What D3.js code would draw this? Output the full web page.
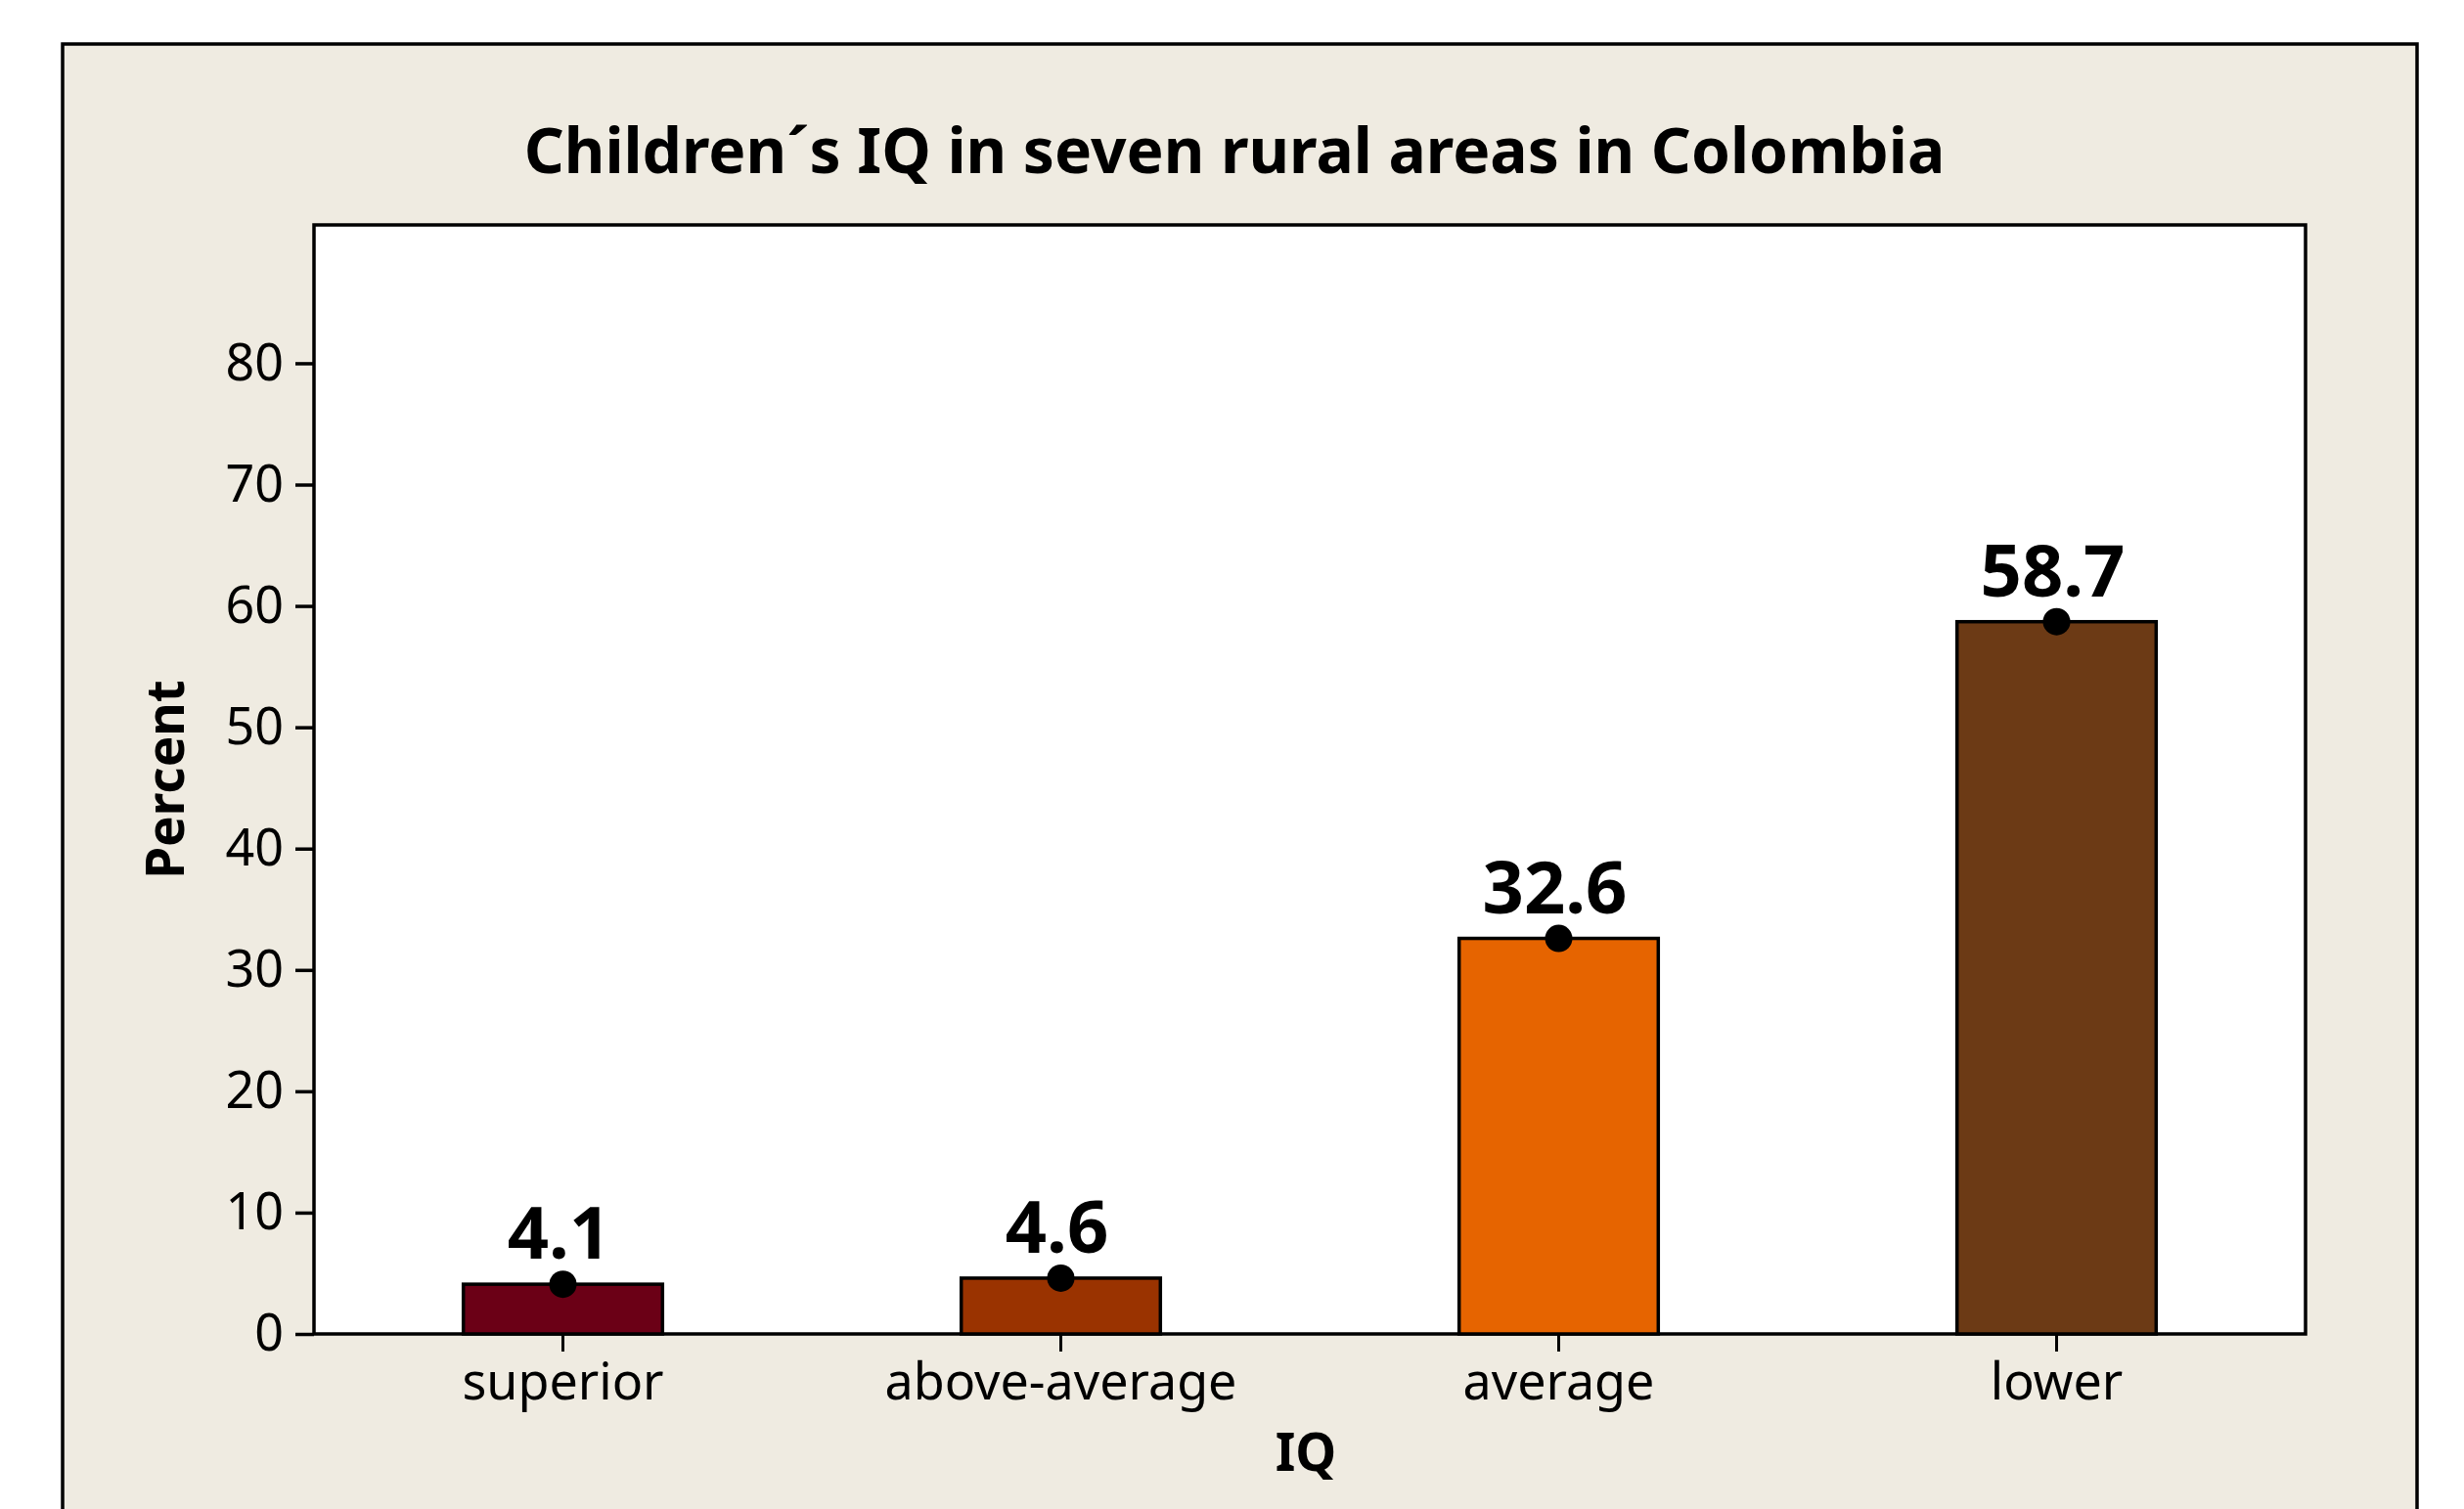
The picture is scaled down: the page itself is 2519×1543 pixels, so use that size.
<!DOCTYPE html>
<html>
<head>
<meta charset="utf-8">
<script src="https://cdn.jsdelivr.net/npm/d3@7"></script>
<style>
  html, body { margin: 0; padding: 0; background: #ffffff; }
  svg { display: block; }
  text { font-family: "Noto Sans", "Open Sans", sans-serif; fill: #000; }
</style>
</head>
<body>
<svg id="chart" width="2519" height="1543"></svg>
<script>
// ---- data ----
const categories = ["superior", "above-average", "average", "lower"];
const percents = [4.1, 4.6, 32.6, 58.7];
const barColors = ["#6B0016", "#9A3300", "#E66400", "#6C3A15"];
const yTicks = [0, 10, 20, 30, 40, 50, 60, 70, 80];
const titleText = "Children\u00B4s IQ in seven rural areas in Colombia";
const xTitle = "IQ";
const yTitle = "Percent";

// ---- layout ----
const W = 2519, H = 1543;
const frame = { x: 64, y: 45, w: 2407, h: 1560 };
const plot = { left: 321, top: 230, right: 2357, bottom: 1364 };

const svg = d3.select("#chart");

svg.append("rect")
  .attr("x", frame.x).attr("y", frame.y)
  .attr("width", frame.w).attr("height", frame.h)
  .attr("fill", "#EFEBE1").attr("stroke", "#000").attr("stroke-width", 3.5);

svg.append("rect")
  .attr("x", plot.left).attr("y", plot.top)
  .attr("width", plot.right - plot.left).attr("height", plot.bottom - plot.top)
  .attr("fill", "#ffffff").attr("stroke", "#000").attr("stroke-width", 3.5);

const x = d3.scaleBand()
  .domain(categories)
  .range([plot.left, plot.right])
  .paddingInner(0.6)
  .paddingOuter(0.3);

const y = d3.scaleLinear()
  .domain([0, 91.4])
  .range([plot.bottom, plot.top]);

// bars
svg.append("g").selectAll("rect")
  .data(categories)
  .join("rect")
  .attr("x", d => x(d))
  .attr("y", (d, i) => y(percents[i]))
  .attr("width", x.bandwidth())
  .attr("height", (d, i) => y(0) - y(percents[i]))
  .attr("fill", (d, i) => barColors[i])
  .attr("stroke", "#000")
  .attr("stroke-width", 3.5);

// dots
svg.append("g").selectAll("circle")
  .data(categories)
  .join("circle")
  .attr("cx", d => x(d) + x.bandwidth() / 2)
  .attr("cy", (d, i) => y(percents[i]))
  .attr("r", 14)
  .attr("fill", "#000");

// value labels
svg.append("g").selectAll("text")
  .data(categories)
  .join("text")
  .attr("x", d => x(d) + x.bandwidth() / 2 - 4)
  .attr("y", (d, i) => y(percents[i]) - 26)
  .attr("text-anchor", "middle")
  .attr("font-weight", "bold")
  .attr("font-size", 74)
  .text((d, i) => percents[i].toFixed(1));

// y axis
const yAxis = d3.axisLeft(y).tickValues(yTicks).tickSize(19).tickPadding(12).tickFormat(d3.format("d"));
const gy = svg.append("g").attr("transform", `translate(${plot.left},0)`).call(yAxis);
gy.select(".domain").remove();
gy.selectAll(".tick line").attr("stroke", "#000").attr("stroke-width", 3.5);
gy.selectAll(".tick text").attr("font-size", 52).attr("font-family", "Noto Sans").attr("fill", "#000");

// x axis
const xAxis = d3.axisBottom(x).tickSize(18).tickPadding(12);
const gx = svg.append("g").attr("transform", `translate(0,${plot.bottom})`).call(xAxis);
gx.select(".domain").remove();
gx.selectAll(".tick line").attr("stroke", "#000").attr("stroke-width", 3);
gx.selectAll(".tick text").attr("font-size", 52).attr("font-family", "Noto Sans").attr("fill", "#000");

// titles
svg.append("text")
  .attr("x", 1262).attr("y", 177)
  .attr("text-anchor", "middle")
  .attr("font-weight", "bold")
  .attr("font-size", 64)
  .text(titleText);

svg.append("text")
  .attr("x", (plot.left + plot.right) / 2 - 4).attr("y", 1504)
  .attr("text-anchor", "middle")
  .attr("font-weight", "bold")
  .attr("font-size", 53)
  .text(xTitle);

svg.append("text")
  .attr("transform", `translate(188,${(plot.top + plot.bottom) / 2}) rotate(-90)`)
  .attr("text-anchor", "middle")
  .attr("font-weight", "bold")
  .attr("font-size", 53)
  .text(yTitle);
</script>
</body>
</html>
